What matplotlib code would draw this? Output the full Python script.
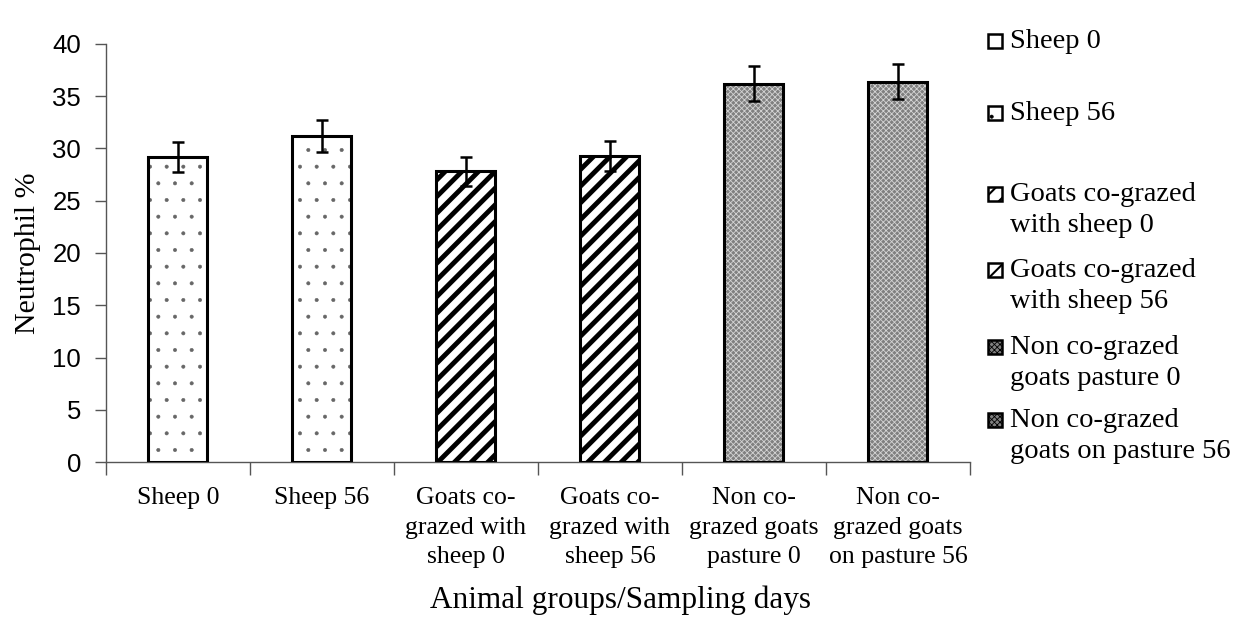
import matplotlib.pyplot as plt
from matplotlib.patches import Rectangle
import numpy as np

groups = ['Sheep 0', 'Sheep 56', 'Goats co-\ngrazed with\nsheep 0', 'Goats co-\ngrazed with\nsheep 56',
          'Non co-\ngrazed goats\npasture 0', 'Non co-\ngrazed goats\non pasture 56']
legend_labels = ['Sheep 0', 'Sheep 56', 'Goats co-grazed\nwith sheep 0', 'Goats co-grazed\nwith sheep 56',
                 'Non co-grazed\ngoats pasture 0', 'Non co-grazed\ngoats on pasture 56']
neutrophil = [29.2, 31.2, 27.8, 29.3, 36.2, 36.4]
errors = [1.45, 1.5, 1.4, 1.45, 1.7, 1.7]

serif = 'Liberation Serif'
sans = 'Liberation Sans'

# (hatch, face, hatch colour, hatch lw) per group
styles = [('.', 'white', '#666666', 0.4), ('.', 'white', '#666666', 0.4),
          ('//', 'white', 'black', 3.5), ('//', 'white', 'black', 3.5),
          ('xxxxxx', '#808080', '#d4d4d4', 0.6), ('xxxxxx', '#808080', '#d4d4d4', 0.6)]

fig = plt.figure(figsize=(12.41, 6.44), dpi=100)
ax = fig.add_axes([0.0854, 0.2826, 0.6962, 0.6491])

x = np.arange(len(groups))
w = 0.41
for i in range(len(groups)):
    h, fc, hc, hlw = styles[i]
    bar = ax.bar(x[i], neutrophil[i], w, color=fc, edgecolor=hc, hatch=h, linewidth=0, zorder=2)
    bar[0].set_hatch_linewidth(hlw)
ax.bar(x, neutrophil, w, facecolor='none', edgecolor='black', linewidth=2.2, zorder=3)
ax.errorbar(x, neutrophil, yerr=errors, fmt='none', ecolor='black', elinewidth=1.8,
            capsize=4, capthick=1.8, zorder=4)

ax.set_xlim(-0.5, len(groups) - 0.5)
ax.set_ylim(0, 40)
ax.set_yticks(range(0, 41, 5))
ax.set_yticklabels([str(v) for v in range(0, 41, 5)], fontfamily=sans, fontsize=18.5)
ax.tick_params(axis='y', direction='out', length=8, width=1, pad=10, color='#555555')

ax.set_xticks(x)
ax.set_xticklabels(groups, fontfamily=serif, fontsize=18.5, linespacing=1.45)
ax.set_xticks(np.arange(-0.5, len(groups)), minor=True)
ax.tick_params(axis='x', which='major', length=0, pad=18)
ax.tick_params(axis='x', which='minor', direction='out', length=9, width=1, color='#555555')

for s in ['top', 'right']:
    ax.spines[s].set_visible(False)
for s in ['left', 'bottom']:
    ax.spines[s].set_color('#555555')
    ax.spines[s].set_linewidth(1)

ax.set_ylabel('Neutrophil %', fontfamily=serif, fontsize=21.5, labelpad=8)
fig.text(0.5, 1 - 600 / 644, 'Animal groups/Sampling days', fontfamily=serif, fontsize=22.5,
         ha='center', va='center')

# legend laid out like the original (uneven spacing)
leg_y = [41, 113, 194, 270, 347, 420]
W, H = 1241, 644
for i, lab in enumerate(legend_labels):
    h, fc, hc, hlw = styles[i]
    yc = 1 - leg_y[i] / H
    sq = 14
    r = Rectangle((988 / W, yc - sq / 2 / H), sq / W, sq / H, transform=fig.transFigure,
                  facecolor=fc, edgecolor='black', hatch=h, linewidth=1.8)
    r.set_hatch_linewidth(min(hlw, 1.5))
    fig.add_artist(r)
    fig.text(1010 / W, yc + 12 / H, lab, fontfamily=serif, fontsize=20.5, ha='left', va='top',
             linespacing=1.3)

fig.savefig('out.png', dpi=100)
